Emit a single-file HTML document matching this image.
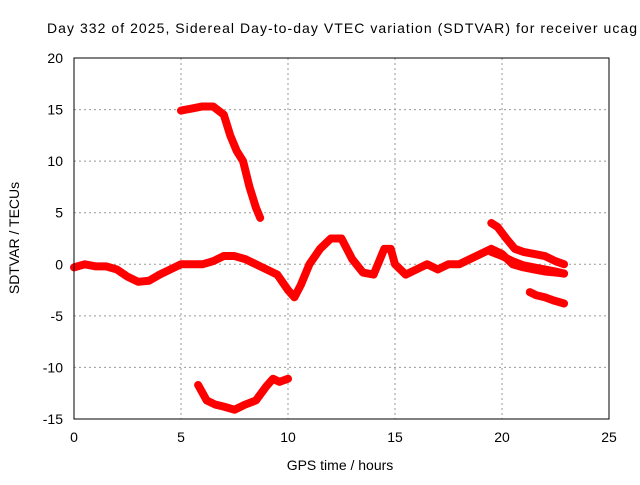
<!DOCTYPE html>
<html><head><meta charset="utf-8"><style>
body{margin:0;background:#fff;font-family:"Liberation Sans",sans-serif;}
svg text{font-family:"Liberation Sans",sans-serif;font-size:13px;fill:#000;}
</style></head><body>
<svg width="640" height="480" id="c">
<rect x="0" y="0" width="640" height="480" fill="#fff"/>
<text x="47" y="33" style="font-size:14px" textLength="590" lengthAdjust="spacing">Day 332 of 2025, Sidereal Day-to-day VTEC variation (SDTVAR) for receiver ucag</text>
<text x="340" y="470" text-anchor="middle" style="font-size:14px">GPS time / hours</text>
<text transform="translate(19,238) rotate(-90)" text-anchor="middle" style="font-size:14px">SDTVAR / TECUs</text>
<g id="grid"></g><g id="series"></g>
<rect x="74" y="58" width="535" height="361" fill="none" stroke="#000" stroke-width="1"/>
</svg>
<script>
const xTicks=[0,5,10,15,20,25];
const yTicks=[20,15,10,5,0,-5,-10,-15];
const mainX=[0,0.5,1,1.5,2,2.5,3,3.5,4,4.5,5,5.5,6,6.5,7,7.5,8,8.5,9,9.5,10,10.3,10.6,11,11.5,12,12.5,13,13.5,14,14.5,14.8,15,15.5,16,16.5,17,17.5,18,18.5,19,19.5,20,20.5,21,21.5,22,22.5,22.9];
const mainY=[-0.3,0,-0.2,-0.2,-0.5,-1.2,-1.7,-1.6,-1,-0.5,0,0,0,0.3,0.8,0.8,0.5,0,-0.5,-1,-2.5,-3.2,-2,0,1.5,2.5,2.5,0.5,-0.8,-1,1.5,1.5,0,-1,-0.5,0,-0.5,0,0,0.5,1,1.5,1,0,-0.3,-0.5,-0.7,-0.8,-0.9];
const upperX=[5,5.5,6,6.5,7,7.3,7.6,7.9,8.2,8.5,8.7];
const upperY=[14.9,15.1,15.3,15.3,14.5,12.5,11,10,7.5,5.5,4.5];
const lowerX=[5.8,6.2,6.6,7,7.5,8,8.5,9,9.3,9.6,10];
const lowerY=[-11.7,-13.2,-13.6,-13.8,-14.1,-13.6,-13.2,-11.8,-11.1,-11.4,-11.1];
const bandAX=[19.5,19.8,20.2,20.6,21,21.5,22,22.5,22.9];
const bandAY=[4,3.6,2.5,1.5,1.2,1,0.8,0.3,0];
const bandBX=[19.5,20,20.5,21,21.5,22,22.5,22.9];
const bandBY=[1.2,0.8,0.3,-0.1,-0.3,-0.5,-0.7,-0.9];
const tailX=[21.3,21.6,22,22.4,22.9];
const tailY=[-2.7,-3,-3.2,-3.5,-3.8];
const X=v=>74+v*535/25, Y=v=>58+(20-v)*361/35;
const ns="http://www.w3.org/2000/svg";
const svg=document.getElementById('c'),grid=document.getElementById('grid'),ser=document.getElementById('series');
function mk(t,a,p){const e=document.createElementNS(ns,t);for(const k in a)e.setAttribute(k,a[k]);p.appendChild(e);return e;}
xTicks.forEach(v=>{
 if(v>0&&v<25){const l=mk('line',{x1:X(v),x2:X(v),y1:58,y2:419,stroke:'#999','stroke-dasharray':'2,3'},grid);
 
 }
 const t=mk('text',{x:X(v),y:442,'text-anchor':'middle',style:'font-size:14px'},svg);t.textContent=v;
 
 
});
yTicks.forEach(v=>{
 if(v<20&&v>-15){const l=mk('line',{x1:74,x2:609,y1:Y(v),y2:Y(v),stroke:'#999','stroke-dasharray':'2,3'},grid);
 
 }
 const t=mk('text',{x:63,y:Y(v)+5,'text-anchor':'end',style:'font-size:14px'},svg);t.textContent=v;
 
 
});
function line(xs,ys,name){
 const p=mk('polyline',{points:xs.map((x,i)=>X(x)+','+Y(ys[i])).join(' '),fill:'none',stroke:'#f00','stroke-width':8,'stroke-linejoin':'round','stroke-linecap':'round'},ser);
 
 
}
line(mainX,mainY,'series-main');
line(upperX,upperY,'series-upper-arc');
line(lowerX,lowerY,'series-lower-arc');
line(bandAX,bandAY,'series-band-a');
line(bandBX,bandBY,'series-band-b');
line(tailX,tailY,'series-tail');
</script>
</body></html>
